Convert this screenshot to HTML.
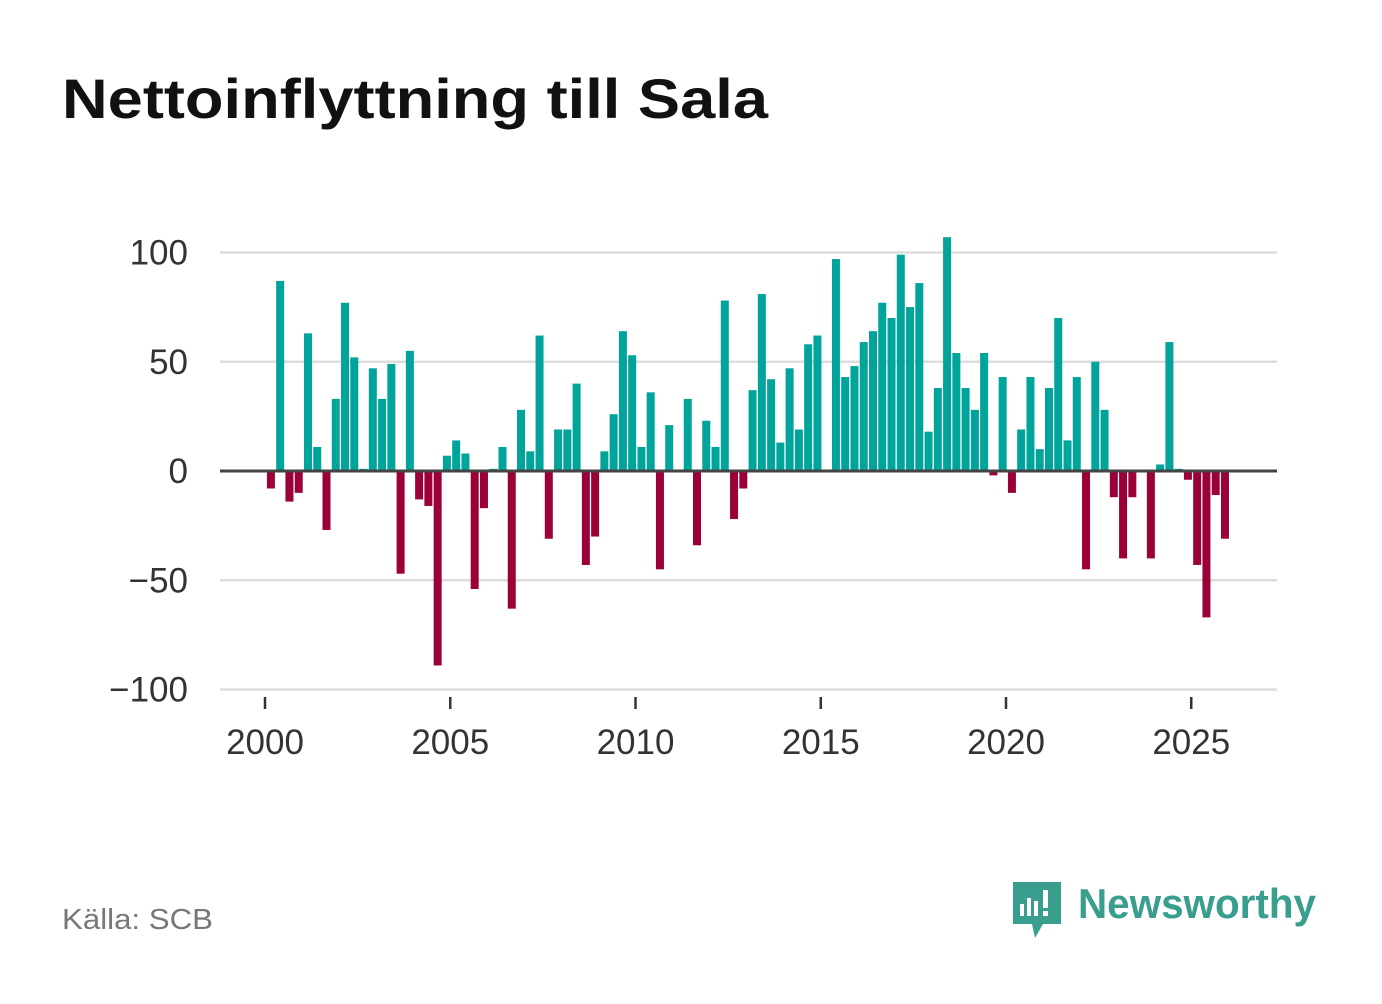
<!DOCTYPE html>
<html><head><meta charset="utf-8">
<style>
body{margin:0;background:#fff;width:1382px;height:999px;overflow:hidden;font-family:"Liberation Sans",sans-serif}
</style></head>
<body>
<svg width="1382" height="999" viewBox="0 0 1382 999">
<text x="62" y="118" font-size="56" font-weight="bold" fill="#111" textLength="706" lengthAdjust="spacingAndGlyphs">Nettoinflyttning till Sala</text>
<g id="grid"></g>
<g id="bars"></g>
<g id="axes"></g>
<text x="62" y="929" font-size="29" fill="#777" textLength="151" lengthAdjust="spacingAndGlyphs">Källa: SCB</text>
<g>
<path d="M1013 882 h48 v42 h-18 l-8 14 l-3 -14 h-19 z" fill="#3a9e8f"/>
<rect x="1020" y="904" width="4" height="12" fill="#fff"/>
<rect x="1027" y="898" width="4" height="18" fill="#fff"/>
<rect x="1034" y="901" width="4" height="15" fill="#fff"/>
<rect x="1043" y="890" width="5" height="18" fill="#fff"/>
<rect x="1043" y="911" width="5" height="5" fill="#fff"/>
<text x="1078" y="918" font-size="42" font-weight="bold" fill="#3a9e8f" textLength="238" lengthAdjust="spacingAndGlyphs">Newsworthy</text>
</g>
</svg>
<script>
const startYear = 2000;
const values = [-8,87,-14,-10,63,11,-27,33,77,52,1,47,33,49,-47,55,-13,-16,-89,7,14,8,-54,-17,1,11,-63,28,9,62,-31,19,19,40,-43,-30,9,26,64,53,11,36,-45,21,0,33,-34,23,11,78,-22,-8,37,81,42,13,47,19,58,62,0,97,43,48,59,64,77,70,99,75,86,18,38,107,54,38,28,54,-2,43,-10,19,43,10,38,70,14,43,-45,50,28,-12,-40,-12,0,-40,3,59,1,-4,-43,-67,-11,-31];
const yTicks = [100,50,0,-50,-100];
const yTickLabels = ["100","50","0","\u221250","\u2212100"];
const xTicks = [2000,2005,2010,2015,2020,2025];

const NS="http://www.w3.org/2000/svg";
const yS = v => 471 - v*2.185;
const xS = yr => 265 + (yr-2000)*37.05;
function mk(tag, attrs, parent){const e=document.createElementNS(NS,tag);for(const k in attrs)e.setAttribute(k,attrs[k]);parent.appendChild(e);return e;}
const grid=document.getElementById('grid'), bars=document.getElementById('bars'), axes=document.getElementById('axes');
yTicks.forEach((t,i)=>{
  if(t!==0){const l=mk('line',{x1:220,x2:1277,y1:yS(t),y2:yS(t),stroke:'#ddd','stroke-width':2.5},grid);
  
  }
  const tx=mk('text',{x:188,y:yS(t)+12,'text-anchor':'end','font-size':35,fill:'#333'},axes);
  tx.textContent=yTickLabels[i];
  
  
});
values.forEach((v,i)=>{
  const cx=xS(startYear+i*0.25+0.16);
  const r=mk('rect',{x:cx-4,width:8,y:Math.min(yS(v),471),height:Math.abs(yS(v)-471),fill:v>=0?'#00a49a':'#9b0038'},bars);
  
  
});
const z=mk('line',{x1:220,x2:1277,y1:471,y2:471,stroke:'#444','stroke-width':3},axes);


xTicks.forEach(t=>{
  const l=mk('line',{x1:xS(t),x2:xS(t),y1:697,y2:709,stroke:'#333','stroke-width':2.5},axes);
  
  
  const tx=mk('text',{x:xS(t),y:754,'text-anchor':'middle','font-size':35,fill:'#333'},axes);
  tx.textContent=t;
  
  
});
</script>
</body></html>
